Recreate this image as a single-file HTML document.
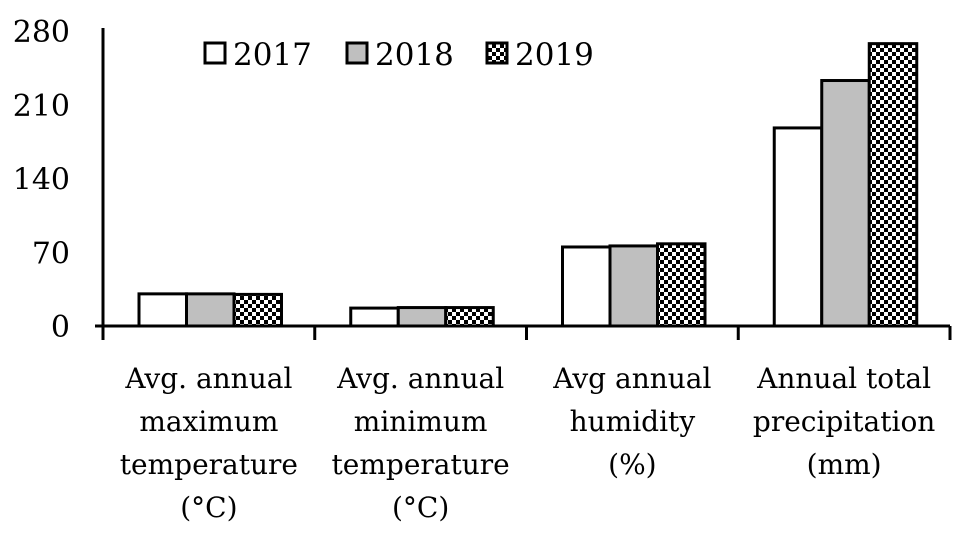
<!DOCTYPE html>
<html><head><meta charset="utf-8"><style>
body{margin:0;background:#fff}
svg text{font-family:"DejaVu Serif","Liberation Serif",serif;fill:#000}
</style></head><body>
<svg width="960" height="534">
<defs><pattern id="chk" width="8" height="8" patternUnits="userSpaceOnUse">
<rect width="8" height="8" fill="#fff"/><rect width="4" height="4" fill="#000"/><rect x="4" y="4" width="4" height="4" fill="#000"/></pattern></defs>
<g id="g"></g>
</svg>
<script>
const categories=[["Avg. annual","maximum","temperature","(°C)"],["Avg. annual","minimum","temperature","(°C)"],["Avg annual","humidity","(%)"],["Annual total","precipitation","(mm)"]];
const seriesNames=["2017","2018","2019"];
const v2017=[30.5,17,75,188];
const v2018=[30.5,17.5,76,233];
const v2019=[30,17.5,78,268];
const yTicks=[0,70,140,210,280];
const series=[v2017,v2018,v2019];
const fills=["#fff","#bfbfbf","url(#chk)"];
const NS="http://www.w3.org/2000/svg";
const g=document.getElementById('g');
const x0=103,x1=950,y0=326,yTop=31,yMax=280;
const y=v=>y0-(v/yMax)*(y0-yTop);
const cw=(x1-x0)/categories.length;
function mk(t,a){const e=document.createElementNS(NS,t);for(const k in a)e.setAttribute(k,a[k]);g.appendChild(e);return e;}
yTicks.forEach(t=>{const e=mk('text',{x:70,y:y(t)+11,'text-anchor':'end','font-size':30});e.textContent=t;

});
const bw=47.5;
categories.forEach((c,i)=>{
 const gx=x0+i*cw+36;
 series.forEach((s,j)=>{const r=mk('rect',{x:gx+j*bw,y:y(s[i]),width:bw,height:y0-y(s[i]),fill:fills[j],stroke:'#000','stroke-width':3});
 
 });
 const cx=x0+(i+0.5)*cw;
 c.forEach((l,k)=>{const t=mk('text',{x:cx,y:388+k*43,'text-anchor':'middle','font-size':28});t.textContent=l;
 
 });
});
const ax=mk('path',{d:`M${x0} ${yTop-3}V${y0}M${x0-8} ${y0}H${x1}`,stroke:'#000','stroke-width':3,fill:'none'});


for(let i=0;i<=categories.length;i++){const t=mk('line',{x1:x0+i*cw,x2:x0+i*cw,y1:y0,y2:y0+14,stroke:'#000','stroke-width':3});

}
[[0,205],[1,347],[2,487]].forEach(([j,lx])=>{
 const r=mk('rect',{x:lx,y:43,width:20,height:20,fill:fills[j],stroke:'#000','stroke-width':3});
 
 
 const t=mk('text',{x:lx+28,y:65,'font-size':31});t.textContent=seriesNames[j];
 
 
});
</script>
</body></html>
